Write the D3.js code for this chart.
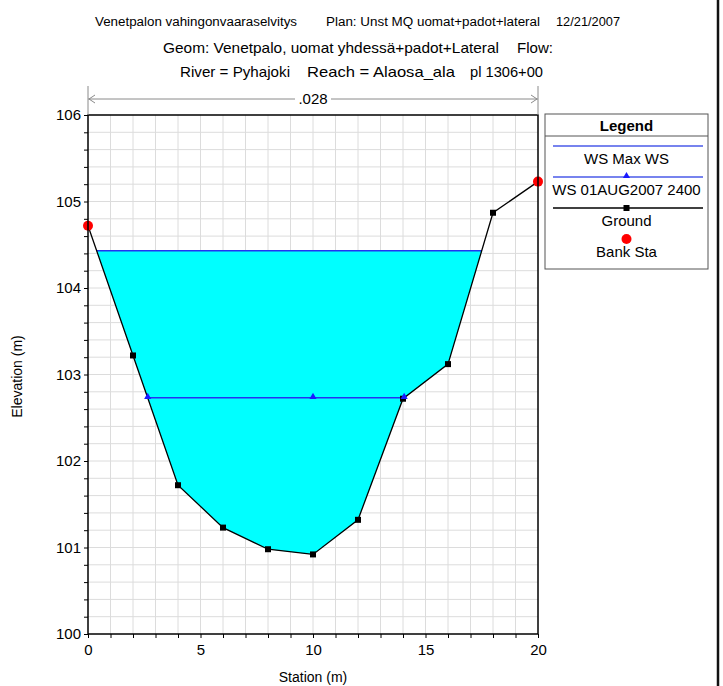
<!DOCTYPE html>
<html>
<head>
<meta charset="utf-8">
<script src="https://cdn.jsdelivr.net/npm/d3@7"></script>
<style>
  html, body { margin: 0; padding: 0; background: #fff; }
  svg { display: block; font-family: "Liberation Sans", Arial, sans-serif; }
</style>
</head>
<body>
<svg id="chart" width="723" height="686"></svg>
<script>
// ---------- data ----------
const stations      = [0, 2, 4, 6, 8, 10, 12, 14, 16, 18, 20];
const groundElev    = [104.72, 103.22, 101.72, 101.23, 100.98, 100.92, 101.32, 102.72, 103.12, 104.87, 105.23];
const bankStations  = [0, 20];
const wsMaxElev     = 104.43;
const wsAugElev     = 102.73;
const wsAugMidMarks = [10];
const xTicks        = [0, 5, 10, 15, 20];
const yTicks        = [100, 101, 102, 103, 104, 105, 106];
const manningN      = [".028"];
const manningRange  = [0, 20];
const titleLine1    = ["Venetpalon vahingonvaaraselvitys", "Plan: Unst MQ uomat+padot+lateral", "12/21/2007"];
const titleLine2    = ["Geom: Venetpalo, uomat yhdessä+padot+Lateral", "Flow:"];
const titleLine3    = ["River = Pyhajoki", "Reach = Alaosa_ala", "pl 1306+00"];
const legendItems   = ["WS Max WS", "WS 01AUG2007 2400", "Ground", "Bank Sta"];

// ---------- layout ----------
const svg = d3.select("#chart");
const L = 88, R = 538, T = 115, B = 634;
const x = d3.scaleLinear().domain([0, 20]).range([L, R]);
const y = d3.scaleLinear().domain([100, 106]).range([B, T]);
const ground = stations.map((s, i) => ({ s, e: groundElev[i] }));

const wsColor = "#2433f0";

// ---------- helpers ----------
function crossings(elev) {
  let left = null, right = null;
  for (let i = 0; i < ground.length - 1; i++) {
    const a = ground[i], b = ground[i + 1];
    if (a.e >= elev && b.e < elev && left === null) {
      left = a.s + (a.e - elev) / (a.e - b.e) * (b.s - a.s);
    }
  }
  for (let i = ground.length - 1; i > 0; i--) {
    const a = ground[i - 1], b = ground[i];
    if (b.e >= elev && a.e < elev && right === null) {
      right = a.s + (elev - a.e) / (b.e - a.e) * (b.s - a.s);
    }
  }
  return [left, right];
}

// ---------- grid ----------
const grid = svg.append("g");
grid.selectAll("line.v").data(d3.range(1, 20)).enter().append("line")
  .attr("x1", d => x(d)).attr("x2", d => x(d)).attr("y1", T).attr("y2", B)
  .attr("stroke", "#dcdcdc").attr("stroke-width", 1);
grid.selectAll("line.h").data(d3.range(1, 30).map(i => 100 + i * 0.2)).enter().append("line")
  .attr("x1", L).attr("x2", R).attr("y1", d => y(d)).attr("y2", d => y(d))
  .attr("stroke", "#dcdcdc").attr("stroke-width", 1);

// ---------- water fill ----------
const [wl, wr] = crossings(wsMaxElev);
const poly = [{ s: wl, e: wsMaxElev }]
  .concat(ground.filter(p => p.s > wl && p.s < wr))
  .concat([{ s: wr, e: wsMaxElev }]);
svg.append("path")
  .attr("d", d3.line().x(d => x(d.s)).y(d => y(d.e))(poly) + "Z")
  .attr("fill", "#00ffff").attr("stroke", "none");

// WS Max line
svg.append("line")
  .attr("x1", x(wl)).attr("x2", x(wr)).attr("y1", y(wsMaxElev)).attr("y2", y(wsMaxElev))
  .attr("stroke", wsColor).attr("stroke-width", 1.5);

// WS 01AUG line
const [al, ar] = crossings(wsAugElev);
svg.append("line")
  .attr("x1", x(al)).attr("x2", x(ar)).attr("y1", y(wsAugElev)).attr("y2", y(wsAugElev))
  .attr("stroke", wsColor).attr("stroke-width", 1.5);

// ---------- ground ----------
svg.append("path")
  .attr("d", d3.line().x(d => x(d.s)).y(d => y(d.e))(ground))
  .attr("fill", "none").attr("stroke", "#000").attr("stroke-width", 1.3);
svg.selectAll("rect.gm").data(ground.filter(p => !bankStations.includes(p.s))).enter().append("rect")
  .attr("x", d => x(d.s) - 3).attr("y", d => y(d.e) - 3).attr("width", 6).attr("height", 6)
  .attr("fill", "#000");

// WS markers (triangles)
const tri = d3.symbol().type(d3.symbolTriangle).size(22);
svg.selectAll("path.wm").data([al, ...wsAugMidMarks, ar]).enter().append("path")
  .attr("d", tri).attr("transform", d => `translate(${x(d)},${y(wsAugElev) - 1})`)
  .attr("fill", "#1a1aff");

// bank stations
svg.selectAll("circle.bank").data(ground.filter(p => bankStations.includes(p.s))).enter().append("circle")
  .attr("cx", d => x(d.s)).attr("cy", d => y(d.e)).attr("r", 5).attr("fill", "#ff0000");

// ---------- axes ----------
svg.append("rect").attr("x", L).attr("y", T).attr("width", R - L).attr("height", B - T)
  .attr("fill", "none").attr("stroke", "#000").attr("stroke-width", 1.5);

const xAxis = svg.append("g").attr("transform", `translate(0,${B})`)
  .call(d3.axisBottom(x).tickValues(d3.range(0, 21)).tickSize(4).tickFormat(d => xTicks.includes(d) ? d : ""));
xAxis.select(".domain").remove();
xAxis.selectAll("text").attr("font-size", 15).attr("fill", "#000").attr("dy", "0.9em")
  .attr("font-family", "Liberation Sans, Arial, sans-serif");
xAxis.selectAll("line").attr("stroke", "#000");

const yAxis = svg.append("g").attr("transform", `translate(${L},0)`)
  .call(d3.axisLeft(y).tickValues(d3.range(0, 31).map(i => 100 + i * 0.2)).tickSize(4)
    .tickFormat(d => yTicks.some(t => Math.abs(t - d) < 1e-6) ? d3.format("d")(Math.round(d)) : ""));
yAxis.select(".domain").remove();
yAxis.selectAll("text").attr("font-size", 15).attr("fill", "#000").attr("x", -7)
  .attr("font-family", "Liberation Sans, Arial, sans-serif");
yAxis.selectAll("line").attr("stroke", "#000");

svg.append("text").attr("x", x(10)).attr("y", 682).attr("text-anchor", "middle")
  .attr("font-size", 14).text("Station (m)");
svg.append("text").attr("transform", `translate(22,${(T + B) / 2 + 2}) rotate(-90)`).attr("text-anchor", "middle")
  .attr("font-size", 14).text("Elevation (m)");

// ---------- Manning's n dimension line ----------
const dimY = 99, dimColor = "#8a8a8a";
const d0 = x(manningRange[0]), d1 = x(manningRange[1]);
[d0, d1].forEach(px => svg.append("line").attr("x1", px).attr("x2", px).attr("y1", 86).attr("y2", T)
  .attr("stroke", dimColor).attr("stroke-width", 1));
const mid = (d0 + d1) / 2;
svg.append("line").attr("x1", d0).attr("x2", mid - 18).attr("y1", dimY).attr("y2", dimY).attr("stroke", dimColor);
svg.append("line").attr("x1", mid + 18).attr("x2", d1).attr("y1", dimY).attr("y2", dimY).attr("stroke", dimColor);
svg.append("path").attr("d", `M${d0 + 7},${dimY - 4}L${d0 + 1},${dimY}L${d0 + 7},${dimY + 4}`)
  .attr("fill", "none").attr("stroke", dimColor);
svg.append("path").attr("d", `M${d1 - 7},${dimY - 4}L${d1 - 1},${dimY}L${d1 - 7},${dimY + 4}`)
  .attr("fill", "none").attr("stroke", dimColor);
svg.append("text").attr("x", mid).attr("y", dimY + 5).attr("text-anchor", "middle")
  .attr("font-size", 15).text(manningN[0]);

// ---------- titles ----------
const t1 = [[95, 202], [326, 214], [556, 64]];
titleLine1.forEach((s, i) => svg.append("text").attr("x", t1[i][0]).attr("y", 26)
  .attr("font-size", 12).attr("textLength", t1[i][1]).attr("lengthAdjust", "spacingAndGlyphs").text(s));
const t2 = [[163, 336], [517, 36]];
titleLine2.forEach((s, i) => svg.append("text").attr("x", t2[i][0]).attr("y", 53)
  .attr("font-size", 15).attr("textLength", t2[i][1]).attr("lengthAdjust", "spacingAndGlyphs").text(s));
const t3 = [[180, 110], [307, 148], [470, 73]];
titleLine3.forEach((s, i) => svg.append("text").attr("x", t3[i][0]).attr("y", 77)
  .attr("font-size", 15).attr("textLength", t3[i][1]).attr("lengthAdjust", "spacingAndGlyphs").text(s));

// ---------- legend ----------
const lg = svg.append("g");
const lx0 = 545, lx1 = 708, ly0 = 114, ly1 = 269, lcx = (lx0 + lx1) / 2;
lg.append("rect").attr("x", lx0).attr("y", ly0).attr("width", lx1 - lx0).attr("height", ly1 - ly0)
  .attr("fill", "#fff").attr("stroke", "#555").attr("stroke-width", 1);
lg.append("line").attr("x1", lx0).attr("x2", lx1).attr("y1", 136).attr("y2", 136).attr("stroke", "#555");
lg.append("text").attr("x", lcx).attr("y", 131).attr("text-anchor", "middle")
  .attr("font-size", 15).attr("font-weight", "bold").text("Legend");
const rowY = [146, 177, 208, 239];
legendItems.forEach((name, i) => {
  const yy = rowY[i];
  if (i < 3) {
    lg.append("line").attr("x1", 553).attr("x2", 703).attr("y1", yy).attr("y2", yy)
      .attr("stroke", i < 2 ? "#4a5ae8" : "#000").attr("stroke-width", 1.5);
  }
  if (i === 1) lg.append("path").attr("d", tri).attr("transform", `translate(${lcx},${yy - 1})`).attr("fill", "#1a1aff");
  if (i === 2) lg.append("rect").attr("x", lcx - 3).attr("y", yy - 3).attr("width", 6).attr("height", 6).attr("fill", "#000");
  if (i === 3) lg.append("circle").attr("cx", lcx).attr("cy", yy).attr("r", 5).attr("fill", "#ff0000");
  lg.append("text").attr("x", lcx).attr("y", yy + 18).attr("text-anchor", "middle")
    .attr("font-size", 15).text(name);
});

// right border of the window frame
svg.append("line").attr("x1", 718).attr("x2", 718).attr("y1", 0).attr("y2", 686)
  .attr("stroke", "#111").attr("stroke-width", 2.5);
</script>
</body>
</html>
